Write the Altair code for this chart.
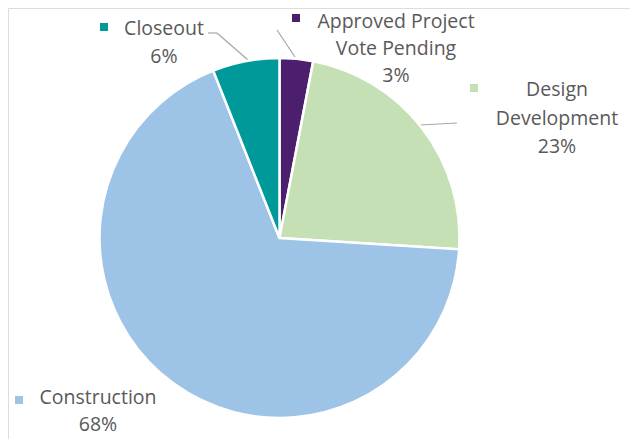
import altair as alt
import pandas as pd

categories = ["Approved Project Vote Pending", "Design Development", "Construction", "Closeout"]
shares = [3, 23, 68, 6]
colors = ["#4B1F6E", "#C5E0B4", "#9DC3E6", "#009999"]
label_lines = [
    ["Approved Project", "Vote Pending"],
    ["Design", "Development"],
    ["Construction"],
    ["Closeout"],
]

# layout (plot-area pixel coordinates)
CX, CY, R = 271.5, 230, 180
OFF = 8
label_centers = [(396, 22), (557, 90), (98, 398), (164, 29)]
square_pos = [(296, 18), (474, 88), (19, 400), (104, 27)]
LINE_H = [27, 28.5, 26.5, 28]

pie_df = pd.DataFrame({"category": categories, "share": shares, "order": list(range(len(categories)))})

color_scale = alt.Scale(domain=categories, range=colors)

pie = alt.Chart(pie_df).mark_arc(outerRadius=R, stroke="white", strokeWidth=2.5).encode(
    theta=alt.Theta("share:Q", stack=True),
    order=alt.Order("order:Q"),
    color=alt.Color("category:N", scale=color_scale, legend=None),
    x=alt.value(CX),
    y=alt.value(CY),
)

rows = []
for cat, lines, v, (lx, ly), lh in zip(categories, label_lines, shares, label_centers, LINE_H):
    all_lines = lines + [f"{v}%"]
    for i, t in enumerate(all_lines):
        rows.append({"category": cat, "text": t, "x": lx - OFF, "y": ly - OFF + i * lh})
lab_df = pd.DataFrame(rows)

labels = alt.Chart(lab_df).mark_text(font="Open Sans", fontSize=19.5, color="#595959", align="center", baseline="middle").encode(
    x=alt.X("x:Q", scale=None),
    y=alt.Y("y:Q", scale=None),
    text="text:N",
)

sq_df = pd.DataFrame({"category": categories,
                      "x": [p[0] - OFF for p in square_pos],
                      "y": [p[1] - OFF for p in square_pos]})
squares = alt.Chart(sq_df).mark_square(size=64, opacity=1).encode(
    x=alt.X("x:Q", scale=None),
    y=alt.Y("y:Q", scale=None),
    color=alt.Color("category:N", scale=color_scale, legend=None),
)

leader_segments = [
    (208, 33, 217, 33),
    (217, 33, 248, 60),
    (277, 30, 295, 57),
    (420, 125, 457, 123),
]
lead_df = pd.DataFrame({
    "x": [s[0] - OFF for s in leader_segments],
    "y": [s[1] - OFF for s in leader_segments],
    "x2": [s[2] - OFF for s in leader_segments],
    "y2": [s[3] - OFF for s in leader_segments],
})
leaders = alt.Chart(lead_df).mark_rule(color="#A6A6A6", strokeWidth=1.2).encode(
    x=alt.X("x:Q", scale=None),
    y=alt.Y("y:Q", scale=None),
    x2="x2:Q",
    y2="y2:Q",
)

chart = alt.layer(leaders, pie, squares, labels).properties(
    width=622, height=431, autosize=alt.AutoSizeParams(type="none"), padding=0
).configure_view(stroke=None).configure(background="white")

chart.save("out.html", embed_options={"renderer": "svg", "actions": False})
